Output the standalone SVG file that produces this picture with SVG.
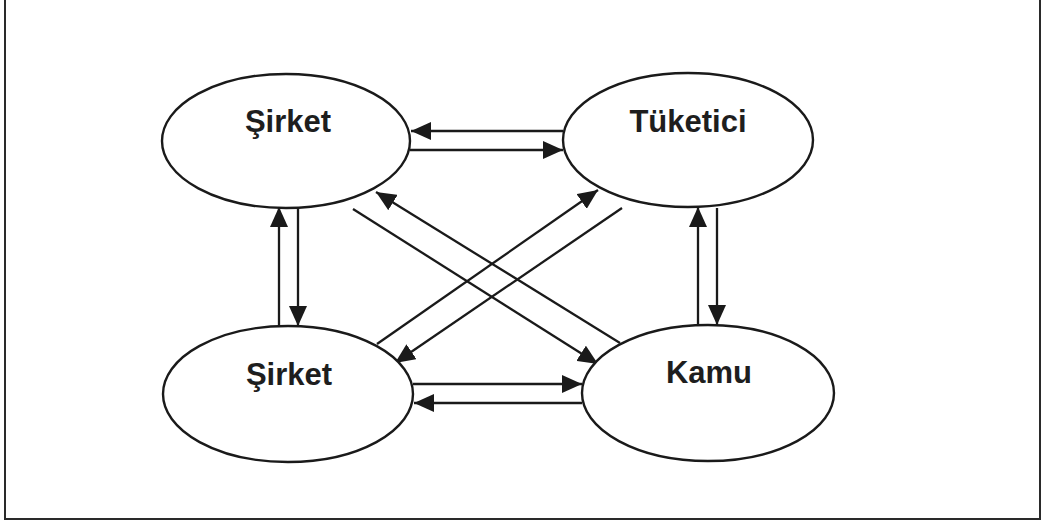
<svg xmlns="http://www.w3.org/2000/svg" width="1047" height="524" viewBox="0 0 1047 524">
<style>
.node ellipse{fill:#fff;stroke:#1a1a1a;stroke-width:2.4}
.node text{font-family:"Liberation Sans",Arial,sans-serif;font-weight:bold;font-size:31px;fill:#1e1e1e;text-anchor:middle}
.edge line{stroke:#1a1a1a;stroke-width:2.3}
</style>
<defs>
<marker id="ah" viewBox="0 0 20 18" refX="20" refY="9" markerWidth="20" markerHeight="18" markerUnits="userSpaceOnUse" orient="auto">
<path d="M0,0 L20,9 L0,18 Z" fill="#1a1a1a"/>
</marker>
</defs>
<rect width="1047" height="524" fill="#fff"/>
<path d="M5,0 V519 H1040 V0" fill="none" stroke="#2a2a2a" stroke-width="2"/>
<g id="connectors" class="edge">
<line x1="563" y1="131" x2="411" y2="131" marker-end="url(#ah)"/>
<line x1="410" y1="150" x2="563" y2="150" marker-end="url(#ah)"/>
<line x1="413" y1="384" x2="582" y2="384" marker-end="url(#ah)"/>
<line x1="582" y1="403" x2="414" y2="403" marker-end="url(#ah)"/>
<line x1="279" y1="326" x2="279" y2="207" marker-end="url(#ah)"/>
<line x1="298" y1="208" x2="298" y2="326" marker-end="url(#ah)"/>
<line x1="698" y1="325" x2="698" y2="207" marker-end="url(#ah)"/>
<line x1="717" y1="208" x2="717" y2="325" marker-end="url(#ah)"/>
<line x1="353" y1="209" x2="598" y2="364" marker-end="url(#ah)"/>
<line x1="620" y1="343" x2="376" y2="192" marker-end="url(#ah)"/>
<line x1="377" y1="344" x2="598" y2="190" marker-end="url(#ah)"/>
<line x1="622" y1="208" x2="395" y2="363" marker-end="url(#ah)"/>
</g>
<g id="sirket1" class="node"><ellipse cx="286" cy="141" rx="124" ry="67"/><text x="288" y="132">Şirket</text></g>
<g id="tuketici" class="node"><ellipse cx="688" cy="140" rx="125" ry="67"/><text x="688" y="132">Tüketici</text></g>
<g id="sirket2" class="node"><ellipse cx="288" cy="394" rx="125" ry="68"/><text x="289" y="385">Şirket</text></g>
<g id="kamu" class="node"><ellipse cx="708" cy="393" rx="126" ry="68"/><text x="709" y="383">Kamu</text></g>
</svg>
